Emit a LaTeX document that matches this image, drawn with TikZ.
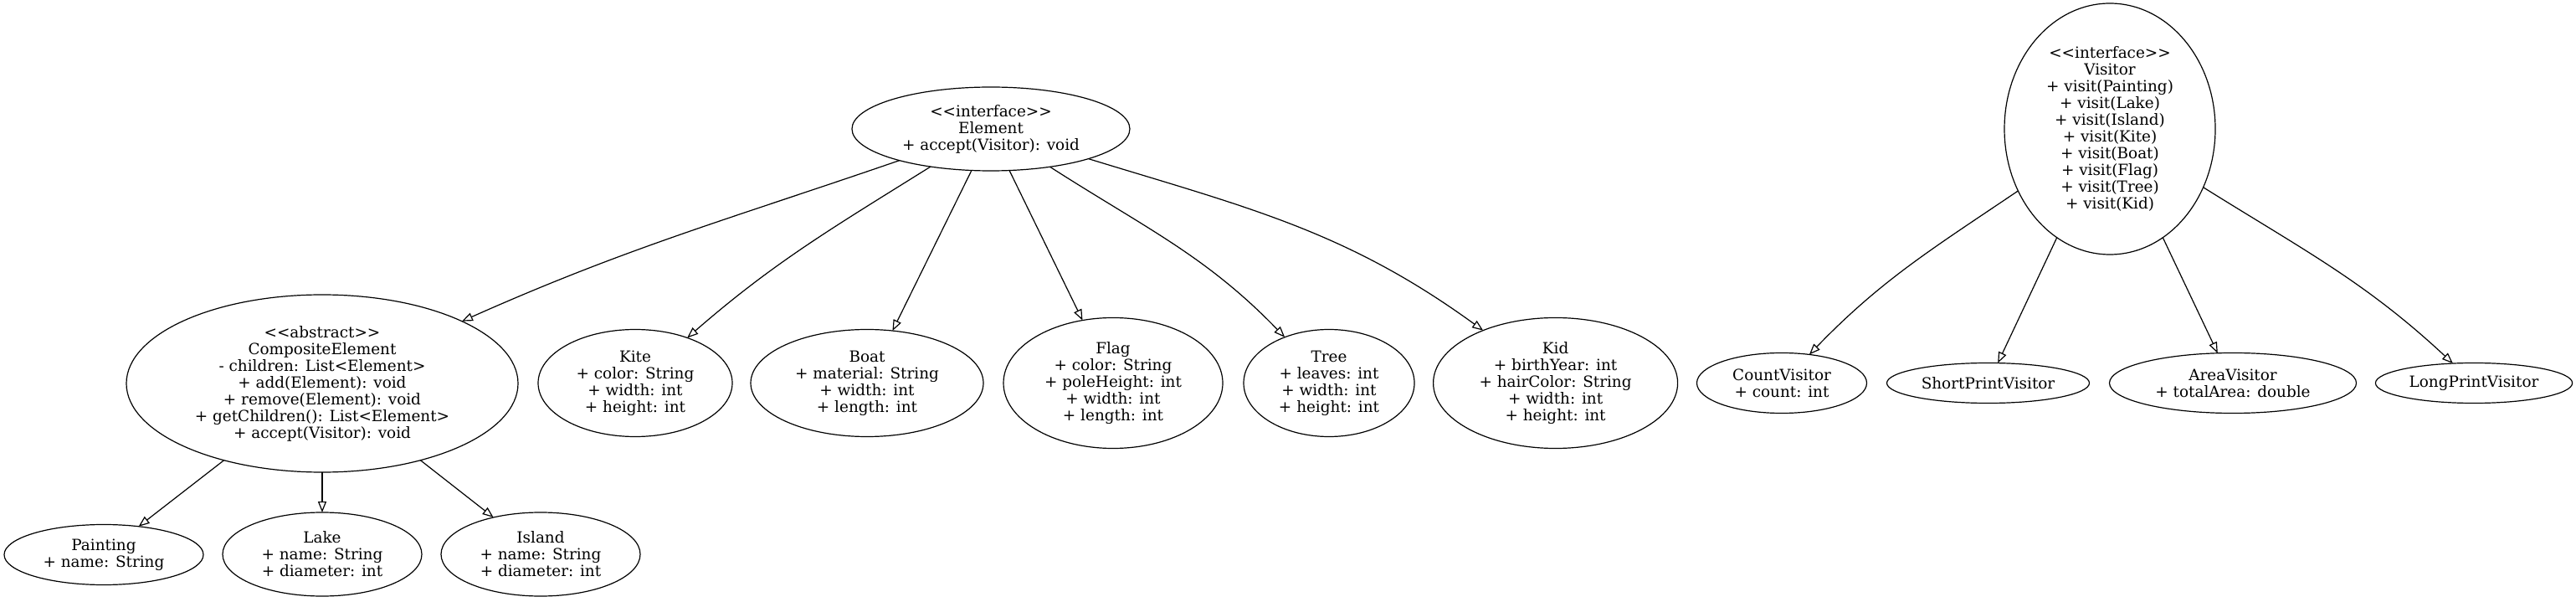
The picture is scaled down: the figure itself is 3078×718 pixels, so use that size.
\documentclass[tikz,border=0pt]{standalone}
\usepackage{fontspec}
\setmainfont{DejaVu Serif}[Ligatures=TeXOff]
\usetikzlibrary{arrows.meta,shapes.geometric}
\newcommand\umlnode[6]{%
  \node[cls, minimum width={2*#4}, minimum height={2*#5}] (#1) at (#2,#3) {};
  \node[lbl] (#1-t) at (#1.center) {#6};}
\begin{document}
\begin{tikzpicture}[x=1pt,y=1pt,
  cls/.style={draw, ellipse, line width=1.2pt, inner sep=0pt, outer sep=0pt},
  lbl/.style={align=center, font=\fontsize{18.4}{20}\selectfont, inner sep=0pt},
  inh/.style={line width=1.2pt, -{Triangle[open, length=13pt, width=10pt]}}]
\useasboundingbox (0,0) rectangle (3078,718);

\umlnode{elem}{1184}{564}{166}{50}{<<interface>>\\Element\\+ accept(Visitor): void}
\umlnode{comp}{385}{260}{234}{106}{<<abstract>>\\CompositeElement\\- children: List<Element>\\+ add(Element): void\\+ remove(Element): void\\+ getChildren(): List<Element>\\+ accept(Visitor): void}
\umlnode{kite}{759}{260.5}{116}{64}{Kite\\+ color: String\\+ width: int\\+ height: int}
\umlnode{boat}{1036}{260.5}{139}{64}{Boat\\+ material: String\\+ width: int\\+ length: int}
\umlnode{flag}{1330}{260.5}{131}{78}{Flag\\+ color: String\\+ poleHeight: int\\+ width: int\\+ length: int}
\umlnode{tree}{1588}{260.5}{102}{64}{Tree\\+ leaves: int\\+ width: int\\+ height: int}
\umlnode{kid}{1858.6}{260.5}{146}{78}{Kid\\+ birthYear: int\\+ hairColor: String\\+ width: int\\+ height: int}
\umlnode{paint}{124}{55.5}{119}{36}{Painting\\+ name: String}
\umlnode{lake}{385}{56}{119}{50}{Lake\\+ name: String\\+ diameter: int}
\umlnode{island}{646}{56}{119}{50}{Island\\+ name: String\\+ diameter: int}
\umlnode{visitor}{2521}{564}{126}{150}{<<interface>>\\Visitor\\+ visit(Painting)\\+ visit(Lake)\\+ visit(Island)\\+ visit(Kite)\\+ visit(Boat)\\+ visit(Flag)\\+ visit(Tree)\\+ visit(Kid)}
\umlnode{count}{2129}{260.5}{101.5}{36}{CountVisitor\\+ count: int}
\umlnode{short}{2375.5}{260.5}{121}{24}{ShortPrintVisitor}
\umlnode{area}{2668}{260.5}{147.5}{36}{AreaVisitor\\+ totalArea: double}
\umlnode{long}{2956}{260.5}{117.6}{24}{LongPrintVisitor}

\draw[inh] (elem) to[out=199,in=24] (comp);
\draw[inh] (elem) to[out=212,in=41] (kite);
\draw[inh] (elem.245) -- (boat.64);
\draw[inh] (elem.294) -- (flag.116);
\draw[inh] (elem) to[out=327.5,in=134] (tree);
\draw[inh] (elem) to[out=343,in=144] (kid);
\draw[inh] (comp.218) -- (paint.39);
\draw[inh] (comp.south) -- (lake.north);
\draw[inh] (comp.322) -- (island.142);
\draw[inh] (visitor) to[out=214,in=46] (count);
\draw[inh] (visitor.244) -- (short.64);
\draw[inh] (visitor.296) -- (area.117);
\draw[inh] (visitor) to[out=328,in=137] (long);
\end{tikzpicture}
\end{document}
